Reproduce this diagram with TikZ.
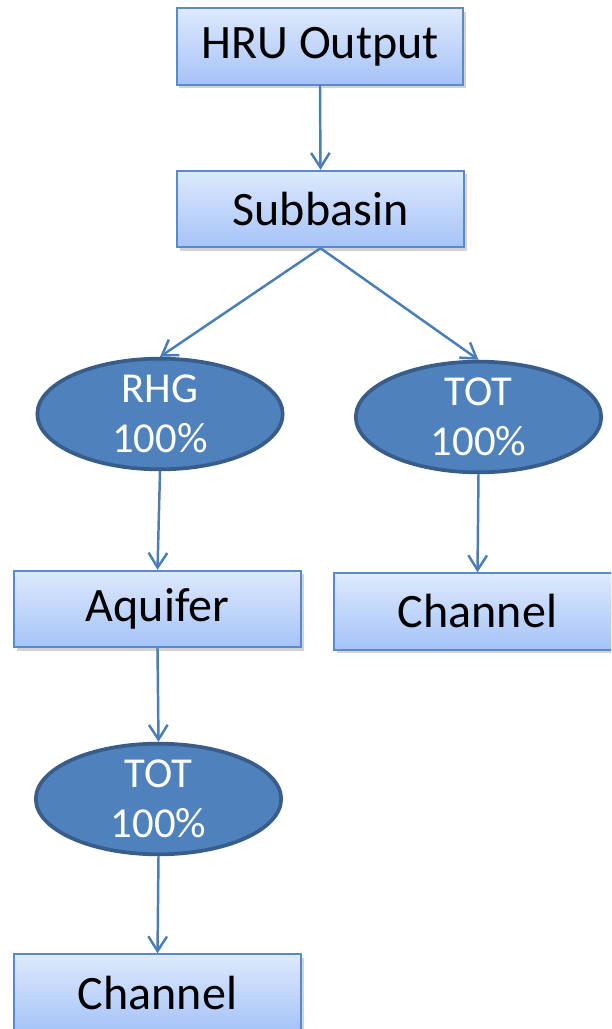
\documentclass[tikz,border=0pt]{standalone}
\usepackage{fontspec}
\setmainfont{Carlito}
\usetikzlibrary{arrows.meta,shapes.geometric,shadows}
\definecolor{boxtop}{HTML}{DEE9FD}
\definecolor{boxbot}{HTML}{A5C3F7}
\definecolor{boxedge}{HTML}{5A8AC8}
\definecolor{ovalfill}{HTML}{4F81BD}
\definecolor{ovaledge}{HTML}{385D8A}
\definecolor{linkcol}{HTML}{4A7EBB}
\tikzset{
  stagebox/.style={rectangle, draw=boxedge, line width=1.3pt,
    top color=boxtop, bottom color=boxbot,
    minimum width=215pt, minimum height=57.5pt, inner sep=0pt,
    font=\fontsize{36}{42}\selectfont, text=black,
    drop shadow={opacity=0.35, shadow xshift=2pt, shadow yshift=-2.5pt}},
  splitoval/.style={ellipse, draw=ovaledge, line width=2.8pt, fill=ovalfill,
    minimum width=184pt, minimum height=83pt, inner sep=0pt,
    align=center, text=white, font=\fontsize{32}{37.5}\selectfont},
  link/.style={draw=linkcol, line width=1.85pt,
    -{Straight Barb[length=11pt,width=14pt,line width=1.85pt]}}
}
\begin{document}
\begin{tikzpicture}[x=0.75pt,y=-0.75pt]
  \useasboundingbox (0,0) rectangle (611,1029);
  \begin{scope}
    \clip (0,0) rectangle (611,1029);
    % processing stages
    \node[stagebox] (hru) at (320,46.5) {HRU Output};
    \node[stagebox] (sub) at (320.5,209) {Subbasin};
    \node[stagebox] (aq)  at (157.5,609) {Aquifer};
    \node[stagebox] (ch1) at (477.5,611.5) {Channel};
    \node[stagebox] (ch2) at (157.5,992.5) {Channel};
    % routing fractions
    \node[splitoval] (rhg)  at (160,414)   {RHG\\100\%};
    \node[splitoval] (tot1) at (478.5,417) {TOT\\100\%};
    \node[splitoval] (tot2) at (158.5,799) {TOT\\100\%};
    % flow connections
    \draw[link] (hru.south) -- (sub.north);
    \draw[link] (sub.south) -- (rhg.north);
    \draw[link] (sub.south) -- (tot1.north);
    \draw[link] (rhg.south) -- (aq.north);
    \draw[link] (tot1.south) -- (ch1.north);
    \draw[link] (aq.south) -- (tot2.north);
    \draw[link] (tot2.south) -- (ch2.north);
  \end{scope}
\end{tikzpicture}
\end{document}
